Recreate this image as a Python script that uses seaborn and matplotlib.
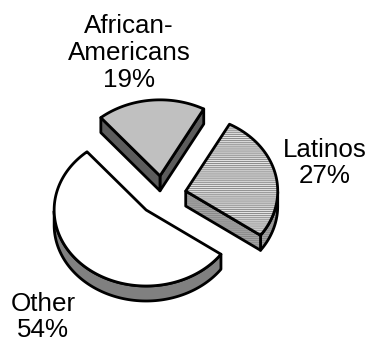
import numpy as np
import matplotlib
matplotlib.use("Agg")
import matplotlib.pyplot as plt
from matplotlib.patches import Polygon
import seaborn as sns

# data
labels = ['African-\nAmericans', 'Latinos', 'Other']
shares = [19, 27, 54]
top_colors = ['#c0c0c0', '#e4e4e4', '#ffffff']
side_colors = ['#5c5c5c', '#a6a6a6', '#808080']
hatches = [None, '--------', None]

sns.set_theme(style='white')
plt.rcParams['font.family'] = ['Liberation Sans', 'DejaVu Sans']
plt.rcParams['hatch.linewidth'] = 0.7

fig = plt.figure(figsize=(3.71, 3.45), dpi=100)
ax = fig.add_axes([0, 0, 1, 1])
ax.set_xlim(0, 371)
ax.set_ylim(345, 0)
ax.axis('off')

# layout of the tilted pie (pixels)
cx, cy = 162.4, 195.5
a, b = 92, 76
h = 15
explode = 0.26
start = 130
lw = 2.0
label_xy = [(129, 53), (325, 163), (43, 317)]

fr = np.array(shares) / np.sum(shares)
cum = np.concatenate([[0], np.cumsum(fr)])


def draw_poly(pts, fc, hatch=None, z=1):
    if hatch:
        ax.add_patch(Polygon(pts, closed=True, facecolor=fc, edgecolor='#888888',
                             lw=0, hatch=hatch, zorder=z))
        ax.add_patch(Polygon(pts, closed=True, fill=False, edgecolor='black',
                             lw=lw, joinstyle='round', zorder=z))
    else:
        ax.add_patch(Polygon(pts, closed=True, facecolor=fc, edgecolor='black',
                             lw=lw, joinstyle='round', zorder=z))


slices = []
for i in range(len(shares)):
    hi = start - 360 * cum[i]
    lo = start - 360 * cum[i + 1]
    m = np.radians((lo + hi) / 2)
    ox = cx + explode * a * np.cos(m)
    oy = cy - explode * b * np.sin(m)
    slices.append((oy, i, lo, hi, ox))

z = 1
for oy, i, lo, hi, ox in sorted(slices):
    t = np.radians(np.linspace(lo, hi, 200))
    px = ox + a * np.cos(t)
    py = oy - b * np.sin(t)

    # outer wall (front part only)
    vis = np.sin(t) <= 0
    if vis.any():
        idx = np.where(vis)[0]
        runs = np.split(idx, np.where(np.diff(idx) > 1)[0] + 1)
        for r in runs:
            if len(r) < 2:
                continue
            top = np.column_stack([px[r], py[r]])
            bot = top[::-1] + [0, h]
            draw_poly(np.vstack([top, bot]), side_colors[i], hatches[i], z)

    # radial cut faces
    for ang, nrm in [(lo, lo - 90), (hi, hi + 90)]:
        if np.sin(np.radians(nrm)) < 0:
            r = np.radians(ang)
            qx = ox + a * np.cos(r)
            qy = oy - b * np.sin(r)
            pts = [(ox, oy), (qx, qy), (qx, qy + h), (ox, oy + h)]
            draw_poly(pts, side_colors[i], hatches[i], z)

    # top face
    pts = np.vstack([[ox, oy], np.column_stack([px, py])])
    draw_poly(pts, top_colors[i], hatches[i], z + 1)
    z += 2

for i, lab in enumerate(labels):
    x, y = label_xy[i]
    ax.text(x, y, f'{lab}\n{shares[i]}%', ha='center', va='center',
            fontsize=18.7, linespacing=1.15, color='black', zorder=20)

fig.savefig('out.png', dpi=100)
